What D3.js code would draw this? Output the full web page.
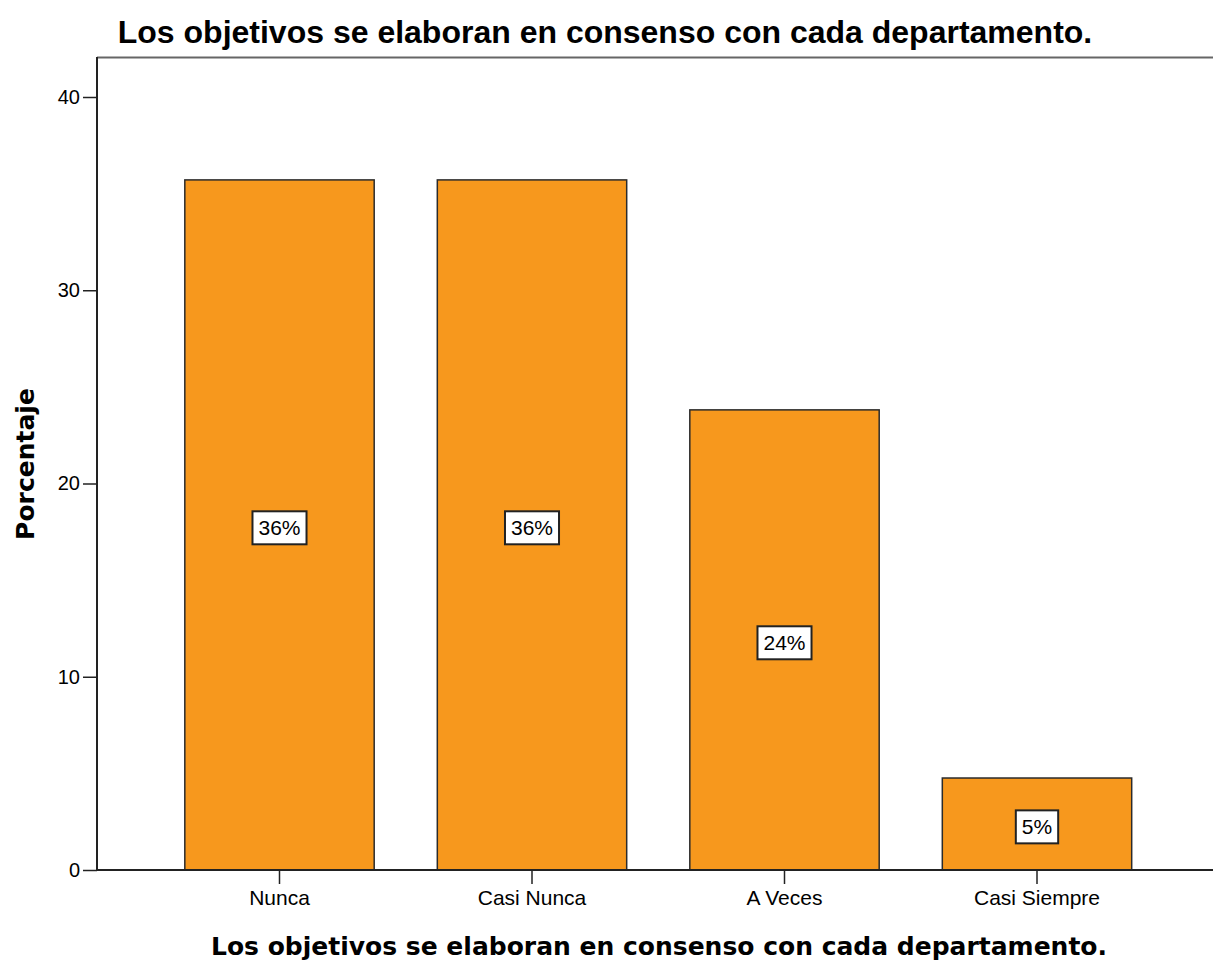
<!DOCTYPE html>
<html>
<head>
<meta charset="utf-8">
<script src="https://cdn.jsdelivr.net/npm/d3@7"></script>
<style>
  html, body { margin: 0; padding: 0; background: #fff; }
  svg { display: block; }
  text { font-family: "Liberation Sans", Arial, sans-serif; fill: #000; }
</style>
</head>
<body>
<svg id="chart" width="1213" height="961"></svg>
<script>
// Response categories and their percentages (n = 42)
const categories = ["Nunca", "Casi Nunca", "A Veces", "Casi Siempre"];
const percentages = [35.71, 35.71, 23.81, 4.76];
const valueLabels = ["36%", "36%", "24%", "5%"];
const yTicks = [0, 10, 20, 30, 40];
const chartTitle = "Los objetivos se elaboran en consenso con cada departamento.";
const xTitle = "Los objetivos se elaboran en consenso con cada departamento.";
const yTitle = "Porcentaje";

const plot = { left: 97, right: 1213, top: 57, bottom: 870 };

const svg = d3.select("#chart");

const x = d3.scaleBand()
  .domain(categories)
  .range([153.25, 1163.25])
  .paddingInner(0.25)
  .paddingOuter(0.125);

const y = d3.scaleLinear()
  .domain([0, 40])
  .range([plot.bottom, 97]);

// Frame: top border line
svg.append("line")
  .attr("x1", plot.left).attr("x2", plot.right)
  .attr("y1", plot.top + 0.5).attr("y2", plot.top + 0.5)
  .attr("stroke", "#666").attr("stroke-width", 2);

// Bars
const data = categories.map((c, i) => ({ cat: c, val: percentages[i], label: valueLabels[i] }));

svg.append("g").selectAll("rect")
  .data(data)
  .join("rect")
  .attr("x", d => x(d.cat))
  .attr("y", d => y(d.val))
  .attr("width", x.bandwidth())
  .attr("height", d => y(0) - y(d.val))
  .attr("fill", "#F7981D")
  .attr("stroke", "#2b2b2b")
  .attr("stroke-width", 1.5);

// Y axis
const yAxis = d3.axisLeft(y).tickValues(yTicks).tickSize(14).tickPadding(3).tickFormat(d3.format("d"));
const gy = svg.append("g").attr("transform", `translate(${plot.left},0)`).call(yAxis);
gy.select(".domain").remove();
gy.selectAll(".tick line").attr("stroke", "#222").attr("stroke-width", 1.5);
gy.selectAll(".tick text").style("font-size", "20px").attr("fill", "#222");
svg.append("line")
  .attr("x1", plot.left).attr("x2", plot.left)
  .attr("y1", plot.top).attr("y2", plot.bottom)
  .attr("stroke", "#222").attr("stroke-width", 2);

// X axis
const xAxis = d3.axisBottom(x).tickSize(14).tickPadding(6);
const gx = svg.append("g").attr("transform", `translate(0,${plot.bottom})`).call(xAxis);
gx.select(".domain").remove();
gx.selectAll(".tick line").attr("stroke", "#222").attr("stroke-width", 1.5);
gx.selectAll(".tick text").style("font-size", "21px").attr("fill", "#222");
svg.append("line")
  .attr("x1", plot.left).attr("x2", plot.right)
  .attr("y1", plot.bottom).attr("y2", plot.bottom)
  .attr("stroke", "#222").attr("stroke-width", 2);

// Value labels in boxes at mid-height of each bar
const lab = svg.append("g").selectAll("g")
  .data(data)
  .join("g")
  .attr("transform", d => `translate(${x(d.cat) + x.bandwidth() / 2},${y(d.val / 2) + 3})`);

lab.append("text")
  .attr("text-anchor", "middle")
  .attr("dy", "0.35em")
  .style("font-size", "21px")
  .text(d => d.label)
  .each(function () {
    const b = this.getBBox();
    d3.select(this.parentNode).insert("rect", "text")
      .attr("x", b.x - 6).attr("y", b.y - 5)
      .attr("width", b.width + 12).attr("height", b.height + 10)
      .attr("fill", "#fff").attr("stroke", "#222").attr("stroke-width", 2);
  });

// Titles
svg.append("text")
  .attr("x", 605).attr("y", 43)
  .attr("text-anchor", "middle")
  .style("font-size", "32px").style("font-weight", "bold")
  .text(chartTitle);

svg.append("text")
  .attr("x", 659).attr("y", 955)
  .attr("text-anchor", "middle")
  .style("font-family", "'DejaVu Sans', sans-serif")
  .style("font-size", "25px").style("font-weight", "bold")
  .text(xTitle);

svg.append("text")
  .attr("transform", "translate(34,464) rotate(-90)")
  .attr("text-anchor", "middle")
  .style("font-family", "'DejaVu Sans', sans-serif")
  .style("font-size", "25px").style("font-weight", "bold")
  .text(yTitle);
</script>
</body>
</html>
